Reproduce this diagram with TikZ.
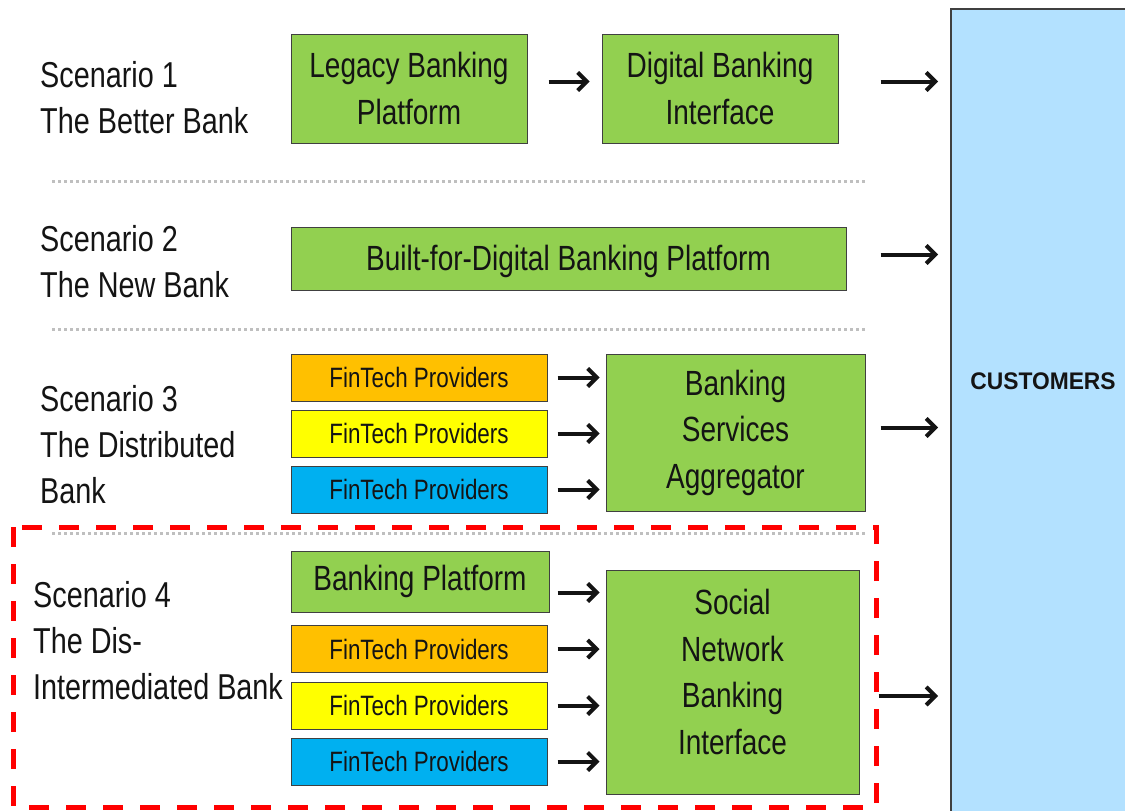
\documentclass[tikz,border=0pt]{standalone}
\usepackage{fontspec}
\setmainfont[FakeStretch=0.8]{Liberation Sans}
\newfontfamily\custfont[FakeStretch=0.95]{Liberation Sans}
\usetikzlibrary{arrows.meta,positioning,calc}
\definecolor{bkgreen}{HTML}{92D050}
\definecolor{bkorange}{HTML}{FFC000}
\definecolor{bkyellow}{HTML}{FFFF00}
\definecolor{bkblue}{HTML}{00B0F0}
\definecolor{bksky}{HTML}{B3E1FF}
\definecolor{bkedge}{HTML}{404040}
\definecolor{bkdark}{HTML}{141414}
\definecolor{bksep}{HTML}{BFBFBF}
\definecolor{bkred}{HTML}{FF0000}
\tikzset{
  box/.style={draw=bkedge,fill=bkgreen,line width=1pt,align=center,inner sep=0pt,text=bkdark,font=\fontsize{35}{46.5}\selectfont,minimum width=236pt,minimum height=109pt},
  fin/.style={box,font=\fontsize{28}{30}\selectfont,minimum width=256pt,minimum height=47pt},
  scen/.style={anchor=west,align=left,inner sep=0pt,text=bkdark,font=\fontsize{36}{46}\selectfont},
  ar/.style={-{Straight Barb[length=9pt,width=18pt]},line width=4pt,draw=bkdark},
  sep/.style={draw=bksep,line width=3pt,dash pattern=on 3pt off 3pt},
}
\begin{document}
\begin{tikzpicture}[x=1pt,y=-1pt]
  \clip (0,0) rectangle (1125,811);
  \fill[white] (0,0) rectangle (1125,811);
  % customers column
  \node[draw=bkedge,fill=bksky,line width=1.5pt,anchor=north west,minimum width=200pt,minimum height=830pt,inner sep=0pt] (cust) at (950,8) {};
  \node[font=\custfont\bfseries\fontsize{24}{26}\selectfont,text=bkdark] (custtxt) at (1043,381) {CUSTOMERS};
  % scenario captions
  \node[scen] (s1) at (40,98) {Scenario 1\\The Better Bank};
  \node[scen] (s2) at (40,261.5) {Scenario 2\\The New Bank};
  \node[scen] (s3) at (40,445) {Scenario 3\\The Distributed\\Bank};
  \node[scen] (s4) at (33,641) {Scenario 4\\The Dis-\\Intermediated Bank};
  % scenario 1
  \node[box] (legacy) at (409,88.5) {Legacy Banking\\Platform};
  \node[box] (digital) at (720,88.5) {Digital Banking\\Interface};
  \draw[ar,shorten <=21pt,shorten >=12pt] (legacy.east) ++(0,-7) coordinate (l1) -- (l1 -| digital.west);
  \draw[ar,shorten <=42pt,shorten >=12pt] (digital.east) ++(0,-7) coordinate (d1) -- (d1 -| cust.west);
  % scenario 2
  \node[box,minimum width=555pt,minimum height=63pt,text height=32pt] (built) at (568.5,258.5) {Built-for-Digital Banking Platform};
  \draw[ar,shorten <=34pt,shorten >=12pt] (built.east) ++(0,-4) coordinate (b1) -- (b1 -| cust.west);
  % scenario 3
  \node[box,minimum width=259pt,minimum height=157pt] (agg) at (735.5,432.5) {Banking\\Services\\Aggregator};
  \foreach \i/\y/\c in {1/377.5/bkorange,2/433.5/bkyellow,3/489.5/bkblue}{
    \node[fin,fill=\c] (fin3\i) at (419,\y) {FinTech Providers};
    \draw[ar,shorten <=10pt,shorten >=6pt] (fin3\i.east) -- (fin3\i.east -| agg.west);
  }
  \draw[ar,shorten <=15pt,shorten >=12pt] (agg.east) ++(0,-5) coordinate (g1) -- (g1 -| cust.west);
  % scenario 4
  \node[box,minimum width=253pt,minimum height=224pt,text depth=20pt] (social) at (732.5,682) {Social\\Network\\Banking\\Interface};
  \node[box,minimum width=258pt,minimum height=61pt] (bplat) at (420,581.5) {Banking Platform};
  \draw[ar,shorten <=8pt,shorten >=6pt] (bplat.east) ++(0,11) coordinate (p1) -- (p1 -| social.west);
  \foreach \i/\y/\c in {1/649/bkorange,2/705.5/bkyellow,3/761.5/bkblue}{
    \node[fin,fill=\c] (fin4\i) at (419,\y) {FinTech Providers};
    \draw[ar,shorten <=10pt,shorten >=6pt] (fin4\i.east) -- (fin4\i.east -| social.west);
  }
  \draw[ar,shorten <=19pt,shorten >=12pt] (social.east) ++(0,14) coordinate (sout) -- (sout -| cust.west);
  % separators
  \foreach \y in {181,329,533}
    \draw[sep] (52,\y) -- (865,\y);
  \draw[bkred,line width=5pt,dash pattern=on 20pt off 17pt] (13,527) rectangle (876,807);
\end{tikzpicture}
\end{document}
